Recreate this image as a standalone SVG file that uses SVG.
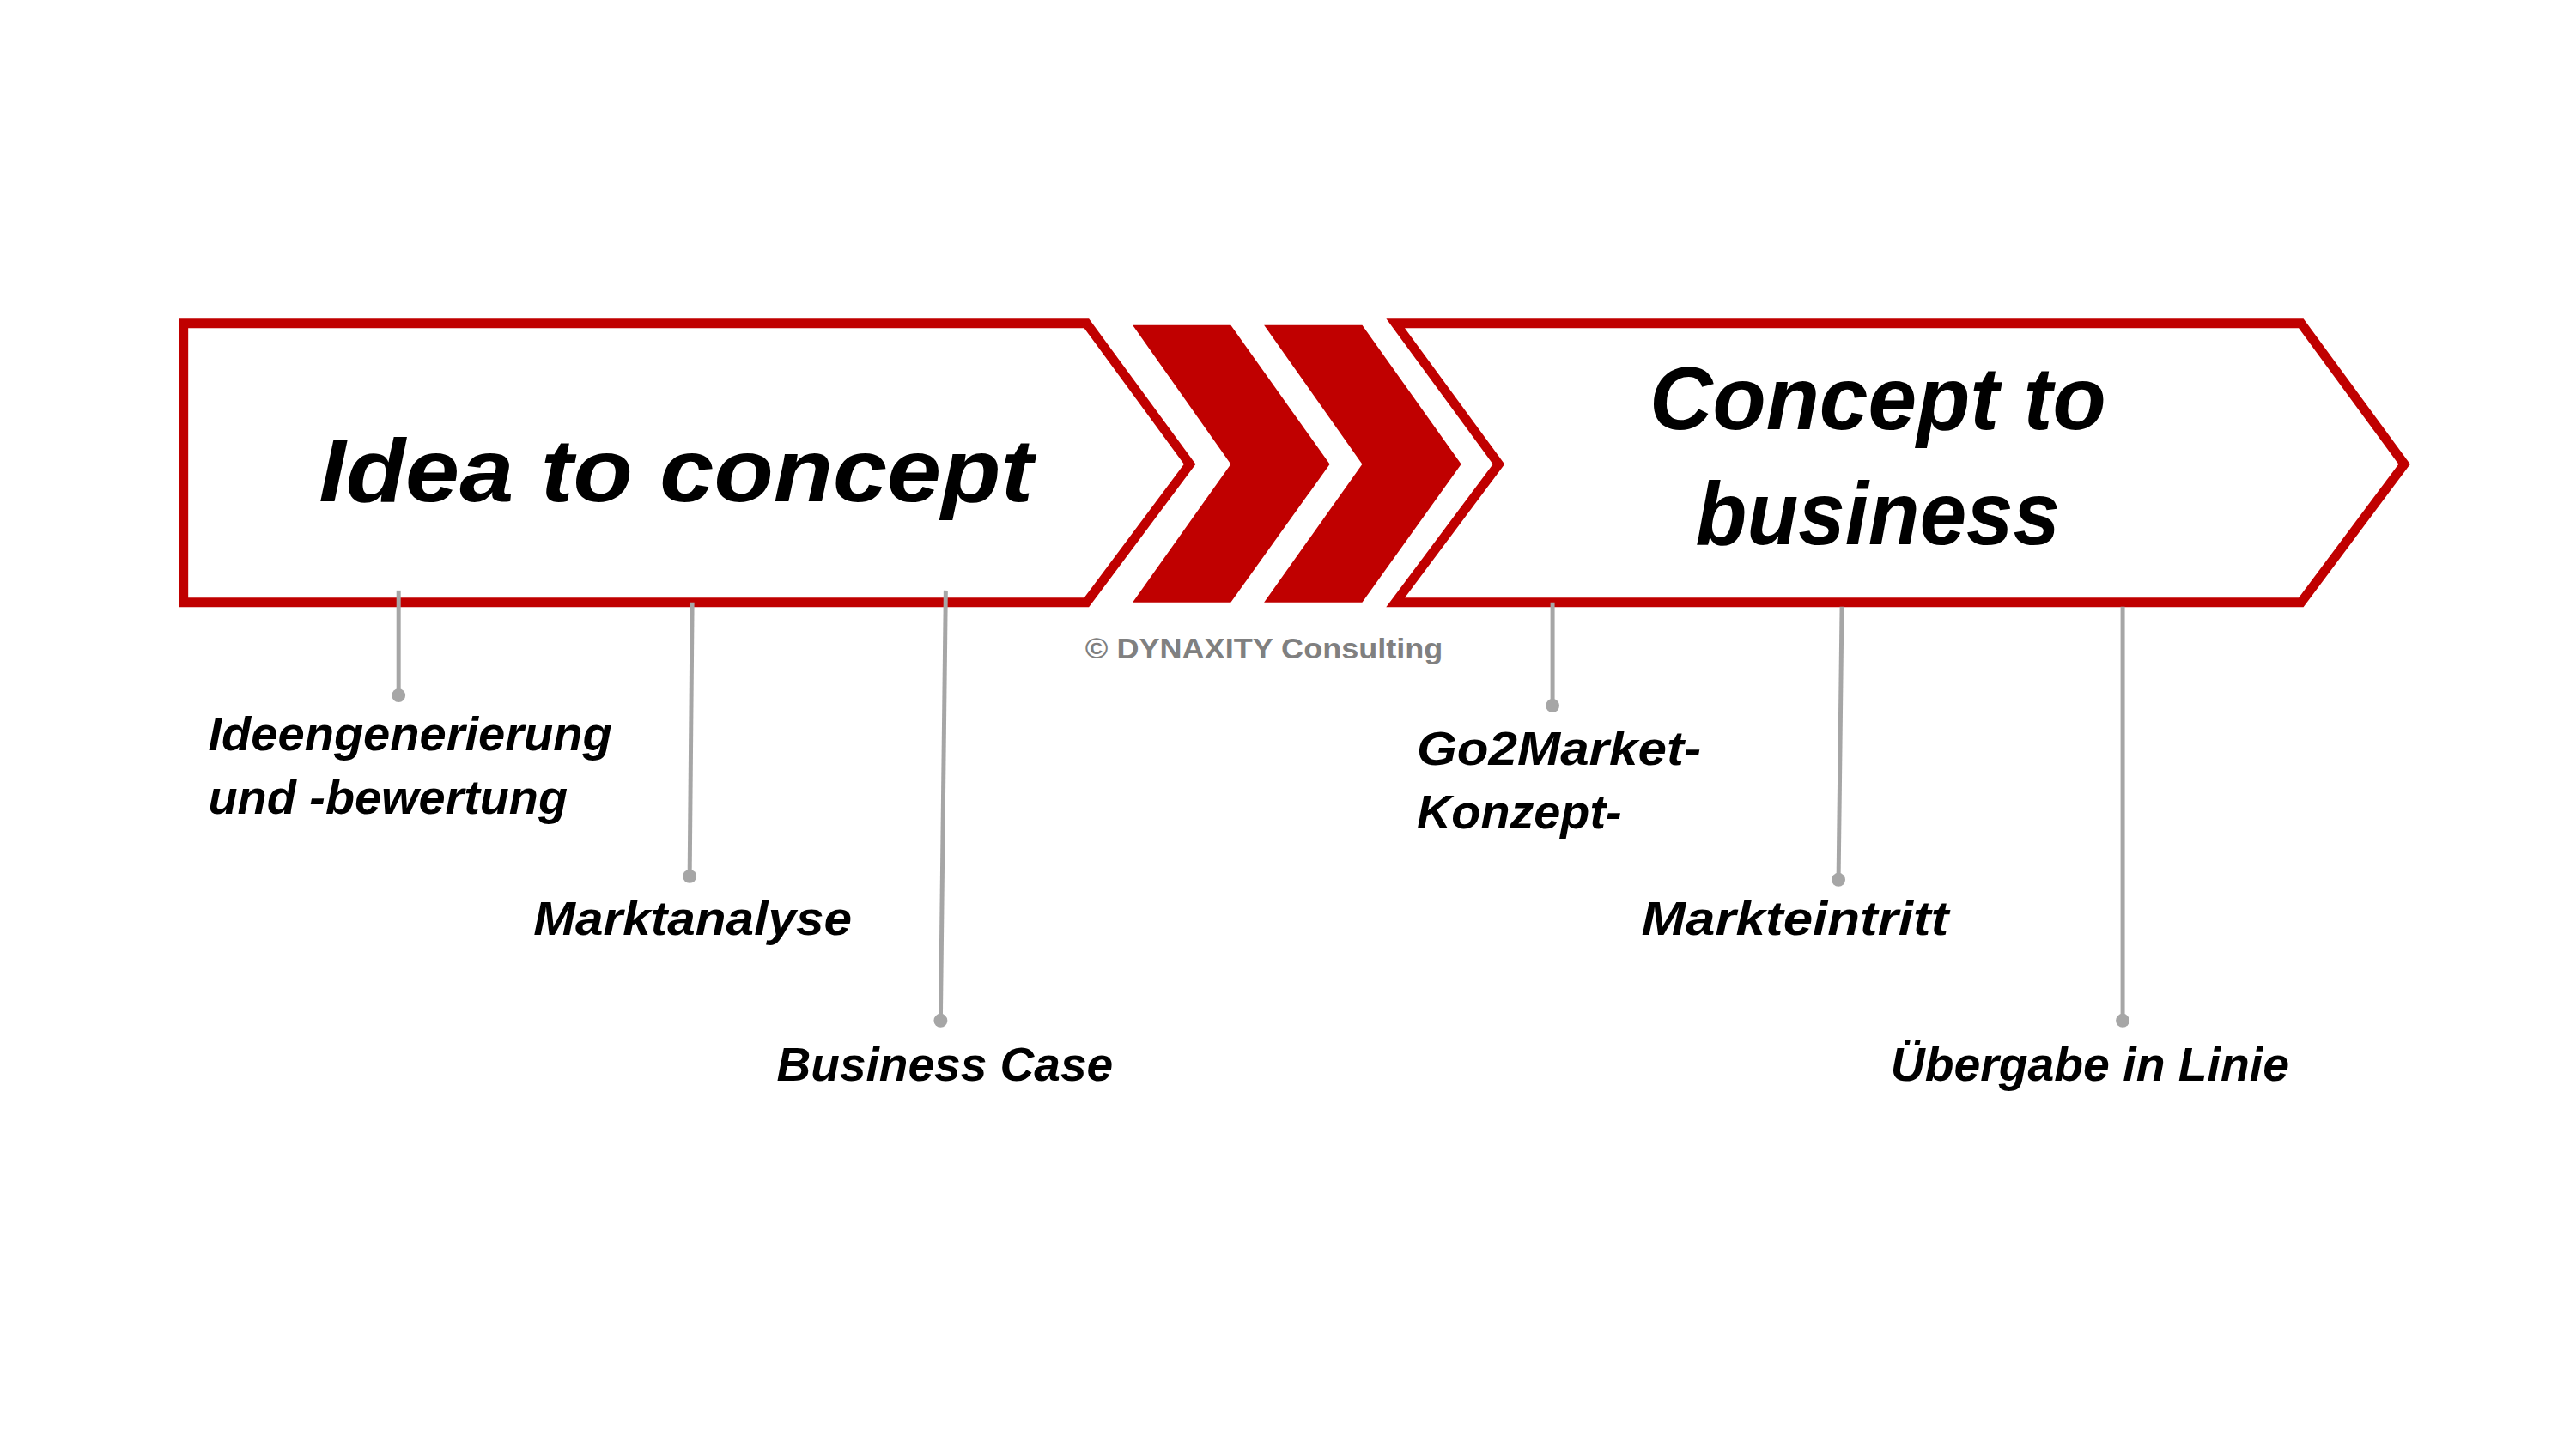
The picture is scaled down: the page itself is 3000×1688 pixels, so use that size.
<svg xmlns="http://www.w3.org/2000/svg" width="3000" height="1688" viewBox="0 0 3000 1688">
<style>
.arrow{fill:#fff;stroke:#C00000;stroke-width:11}
.chev{fill:#C00000}
.big{font-family:"Liberation Sans",Arial,sans-serif;font-weight:bold;font-style:italic;font-size:104px;fill:#000}
.lbl{font-family:"Liberation Sans",Arial,sans-serif;font-weight:bold;font-style:italic;font-size:56px;fill:#000}
.copy{font-family:"Liberation Sans",Arial,sans-serif;font-weight:bold;font-size:34px;fill:#808080}
.ln{stroke:#A6A6A6;stroke-width:5;fill:none}
.dot{fill:#A6A6A6}
</style>
<rect width="3000" height="1688" fill="#fff"/>
<g transform="scale(0.994)">
<g id="phase1">
<polygon class="arrow" points="215,379 1273,379 1394,544 1273,706 215,706"/>
<text class="big" x="792" y="588" text-anchor="middle" textLength="837" lengthAdjust="spacingAndGlyphs">Idea to concept</text>
</g>
<g id="chevrons">
<polygon class="chev" points="1327,381 1442,381 1558,544 1442,706 1327,706 1442,544"/>
<polygon class="chev" points="1481,381 1596,381 1712,544 1596,706 1481,706 1596,544"/>
</g>
<g id="phase2">
<polygon class="arrow" points="1635,379 2696,379 2817,544 2696,706 1635,706 1756,544"/>
<text class="big" x="2200" y="503" text-anchor="middle" textLength="535" lengthAdjust="spacingAndGlyphs">Concept to</text>
<text class="big" x="2200" y="638" text-anchor="middle" textLength="427" lengthAdjust="spacingAndGlyphs">business</text>
</g>
<g id="copyright">
<text class="copy" x="1481" y="772" text-anchor="middle" textLength="419" lengthAdjust="spacingAndGlyphs">© DYNAXITY Consulting</text>
</g>
<g id="connectors">
<line class="ln" x1="467" y1="692" x2="467" y2="815"/><circle class="dot" cx="467" cy="815" r="8"/>
<line class="ln" x1="811" y1="706" x2="808" y2="1027"/><circle class="dot" cx="808" cy="1027" r="8"/>
<line class="ln" x1="1108" y1="692" x2="1102" y2="1196"/><circle class="dot" cx="1102" cy="1196" r="8"/>
<line class="ln" x1="1819" y1="706" x2="1819" y2="827"/><circle class="dot" cx="1819" cy="827" r="8"/>
<line class="ln" x1="2158" y1="711" x2="2154" y2="1031"/><circle class="dot" cx="2154" cy="1031" r="8"/>
<line class="ln" x1="2487" y1="711" x2="2487" y2="1196"/><circle class="dot" cx="2487" cy="1196" r="8"/>
</g>
<g id="label-ideen">
<text class="lbl" x="244" y="879" textLength="473" lengthAdjust="spacingAndGlyphs">Ideengenerierung</text>
<text class="lbl" x="244" y="954" textLength="421" lengthAdjust="spacingAndGlyphs">und -bewertung</text>
</g>
<g id="label-markt"><text class="lbl" x="625" y="1096" textLength="373" lengthAdjust="spacingAndGlyphs">Marktanalyse</text></g>
<g id="label-bc"><text class="lbl" x="910" y="1267" textLength="394" lengthAdjust="spacingAndGlyphs">Business Case</text></g>
<g id="label-go2">
<text class="lbl" x="1660" y="896" textLength="333" lengthAdjust="spacingAndGlyphs">Go2Market-</text>
<text class="lbl" x="1660" y="971" textLength="240" lengthAdjust="spacingAndGlyphs">Konzept-</text>
</g>
<g id="label-eintritt"><text class="lbl" x="1923" y="1096" textLength="360" lengthAdjust="spacingAndGlyphs">Markteintritt</text></g>
<g id="label-uebergabe"><text class="lbl" x="2215" y="1267" textLength="467" lengthAdjust="spacingAndGlyphs">Übergabe in Linie</text></g>
</g>
</svg>
